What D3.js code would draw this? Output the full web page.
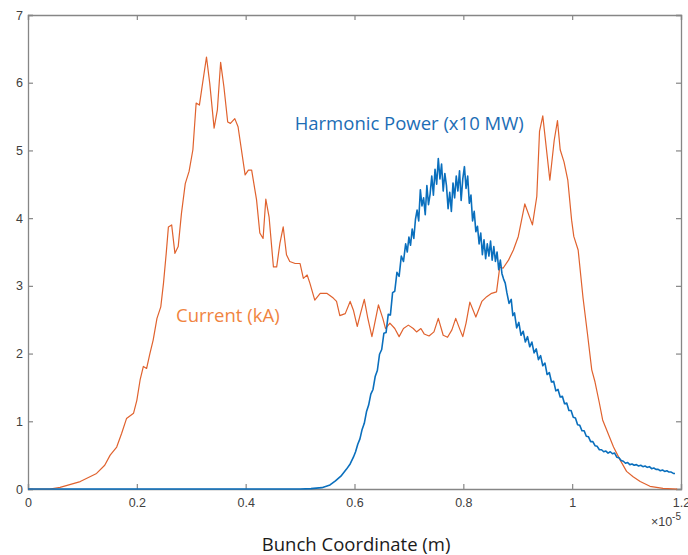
<!DOCTYPE html>
<html>
<head>
<meta charset="utf-8">
<script src="https://cdn.jsdelivr.net/npm/d3@7"></script>
<style>
  body { margin: 0; background: #fff; }
  svg { display: block; }
</style>
</head>
<body>
<div id="chart"></div>
<script>
// bunch coordinate in units of 1e-5 m
var currentData = [
  [0,0],[0.040,0],[0.059,0.025],[0.096,0.11],[0.126,0.23],[0.141,0.35],[0.151,0.50],[0.163,0.62],
  [0.172,0.82],[0.181,1.04],[0.194,1.12],[0.200,1.31],[0.206,1.61],[0.212,1.81],[0.218,1.78],
  [0.224,2.00],[0.230,2.20],[0.237,2.52],[0.244,2.69],[0.249,3.04],[0.254,3.48],[0.258,3.87],
  [0.264,3.90],[0.270,3.48],[0.276,3.58],[0.282,4.07],[0.289,4.51],[0.296,4.69],[0.303,5.01],
  [0.309,5.70],[0.315,5.67],[0.319,5.89],[0.328,6.38],[0.334,5.99],[0.342,5.33],[0.348,5.60],
  [0.354,6.30],[0.360,5.94],[0.367,5.42],[0.372,5.40],[0.380,5.47],[0.386,5.35],[0.399,4.64],
  [0.405,4.71],[0.411,4.71],[0.420,4.27],[0.426,3.78],[0.432,3.70],[0.437,4.28],[0.443,4.02],
  [0.451,3.28],[0.457,3.28],[0.463,3.63],[0.469,3.87],[0.475,3.46],[0.481,3.36],[0.491,3.33],
  [0.500,3.33],[0.506,3.11],[0.513,3.16],[0.518,3.04],[0.527,2.79],[0.537,2.89],[0.549,2.89],
  [0.561,2.82],[0.567,2.77],[0.573,2.56],[0.583,2.59],[0.592,2.77],[0.598,2.64],[0.605,2.40],
  [0.611,2.59],[0.618,2.80],[0.624,2.54],[0.632,2.25],[0.636,2.40],[0.644,2.72],[0.652,2.52],
  [0.657,2.37],[0.665,2.45],[0.674,2.37],[0.682,2.25],[0.690,2.37],[0.699,2.42],[0.708,2.37],
  [0.714,2.32],[0.722,2.37],[0.728,2.29],[0.737,2.26],[0.746,2.32],[0.754,2.52],[0.763,2.27],
  [0.771,2.24],[0.779,2.35],[0.786,2.52],[0.794,2.35],[0.799,2.25],[0.805,2.45],[0.812,2.76],
  [0.823,2.54],[0.834,2.77],[0.843,2.84],[0.852,2.89],[0.861,2.91],[0.867,3.28],[0.873,3.26],
  [0.883,3.38],[0.892,3.53],[0.901,3.73],[0.913,4.21],[0.927,3.90],[0.935,4.32],[0.940,5.28],
  [0.946,5.51],[0.959,4.56],[0.967,5.15],[0.973,5.44],[0.978,5.01],[0.985,4.83],[0.992,4.56],
  [0.999,3.97],[1.003,3.73],[1.011,3.53],[1.020,2.82],[1.028,2.30],[1.036,1.76],[1.042,1.58],
  [1.050,1.27],[1.056,1.02],[1.066,0.82],[1.076,0.62],[1.088,0.43],[1.100,0.26],[1.112,0.18],
  [1.125,0.11],[1.143,0.04],[1.167,0.01],[1.193,0]
];

var powerData = [
  [0,0],[0.45,0],[0.50,0],[0.52,0.005],[0.54,0.02],[0.555,0.06],[0.565,0.12],[0.575,0.19],
  [0.585,0.29],[0.592,0.37],[0.598,0.47],
  [0.602,0.55],[0.606,0.66],[0.610,0.74],[0.614,0.88],[0.618,0.97],[0.622,1.14],[0.626,1.24],
  [0.630,1.40],[0.634,1.47],[0.638,1.66],[0.642,1.75],[0.646,1.99],[0.650,2.06],[0.654,2.30],
  [0.658,2.31],[0.662,2.58],[0.666,2.57],[0.670,2.90],[0.674,2.92],[0.678,3.20],[0.682,3.14],
  [0.686,3.44],[0.690,3.36],[0.694,3.62],[0.697,3.50],
  [0.700,3.72],[0.703,3.60],[0.706,3.84],[0.709,3.70],[0.712,3.98],[0.715,4.12],[0.718,3.96],
  [0.721,4.42],[0.724,4.18],[0.727,4.30],[0.730,4.05],[0.733,4.48],[0.736,4.20],[0.739,4.36],
  [0.742,4.62],[0.745,4.34],[0.748,4.72],[0.751,4.50],[0.754,4.88],[0.757,4.58],[0.760,4.80],
  [0.763,4.40],[0.766,4.66],[0.769,4.48],[0.772,4.14],[0.775,4.38],[0.778,4.10],[0.781,4.52],
  [0.784,4.30],[0.787,4.62],[0.790,4.40],[0.793,4.70],[0.796,4.26],[0.799,4.58],[0.802,4.76],
  [0.805,4.44],[0.808,4.62],[0.811,4.22],[0.814,4.34],[0.817,3.96],[0.820,4.10],[0.823,3.80],
  [0.826,3.88],[0.829,3.62],[0.832,3.78],[0.835,3.46],[0.838,3.68],[0.841,3.40],[0.844,3.62],
  [0.847,3.44],[0.850,3.66],[0.853,3.38],[0.856,3.58],[0.859,3.36],[0.862,3.50],[0.865,3.24],
  [0.868,3.38],[0.871,3.18],[0.874,3.10],[0.877,3.04],[0.880,2.90],
  [0.884,2.74],[0.888,2.80],[0.891,2.56],[0.894,2.60],[0.898,2.38],[0.902,2.46],[0.906,2.27],
  [0.910,2.33],[0.914,2.17],[0.918,2.25],[0.922,2.10],[0.926,2.17],[0.930,2.01],[0.934,2.07],
  [0.938,1.91],[0.942,1.97],[0.946,1.82],[0.950,1.86],[0.954,1.69],[0.958,1.72],[0.962,1.58],
  [0.966,1.59],[0.970,1.45],[0.974,1.47],[0.978,1.36],[0.982,1.37],[0.986,1.26],[0.990,1.27],
  [0.994,1.16],[0.998,1.16],[1.002,1.06],[1.006,1.05],[1.010,0.95],[1.014,0.94],[1.018,0.86],
  [1.022,0.86],[1.026,0.78],[1.030,0.77],[1.034,0.70],[1.038,0.70],[1.042,0.64],[1.046,0.63],
  [1.050,0.58],[1.054,0.58],[1.058,0.55],[1.062,0.56],[1.066,0.53],[1.070,0.55],[1.074,0.52],
  [1.078,0.53],[1.082,0.47],[1.086,0.46],[1.090,0.42],[1.094,0.41],[1.098,0.38],[1.102,0.39],
  [1.106,0.36],[1.110,0.37],[1.114,0.35],[1.118,0.36],[1.122,0.34],[1.126,0.35],[1.130,0.33],
  [1.134,0.34],[1.138,0.32],[1.142,0.33],[1.146,0.30],[1.150,0.31],[1.154,0.29],[1.158,0.29],
  [1.162,0.27],[1.166,0.28],[1.170,0.26],[1.174,0.27],[1.178,0.25],[1.182,0.25],[1.186,0.23],
  [1.189,0.23]
];

var xTicks = [0, 0.2, 0.4, 0.6, 0.8, 1, 1.2];
var yTicks = [0, 1, 2, 3, 4, 5, 6, 7];

var margin = {top: 15, right: 7, bottom: 66, left: 28},
  width = 688 - margin.left - margin.right,
  height = 555 - margin.top - margin.bottom;

var svg = d3.select("#chart")
  .append("svg")
    .attr("width", 688)
    .attr("height", 555)
  .append("g")
    .attr("transform", "translate(" + margin.left + "," + margin.top + ")");

var x = d3.scaleLinear().domain([0, 1.2]).range([0, width]);
var y = d3.scaleLinear().domain([0, 7]).range([height, 0]);

var axisColor = "#868686";
var textColor = "#404040";
var tickFont = "Liberation Sans, Arial, sans-serif";

// axes, MATLAB style: ticks inward on all four sides
svg.append("g")
  .attr("transform", "translate(0," + height + ")")
  .call(d3.axisBottom(x).tickValues(xTicks).tickSize(-5).tickPadding(9)
    .tickFormat(function(d) { return d; }));
svg.append("g")
  .call(d3.axisTop(x).tickValues(xTicks).tickSize(-5).tickFormat(""));
svg.append("g")
  .call(d3.axisLeft(y).tickValues(yTicks).tickSize(-5).tickPadding(5)
    .tickFormat(d3.format("d")));
svg.append("g")
  .attr("transform", "translate(" + width + ",0)")
  .call(d3.axisRight(y).tickValues(yTicks).tickSize(-5).tickFormat(""));

svg.selectAll(".domain").style("stroke", axisColor).style("stroke-width", 1.3);
svg.selectAll(".tick line").style("stroke", axisColor).style("stroke-width", 1.2);
svg.selectAll(".tick text")
  .style("fill", textColor)
  .style("font-family", tickFont)
  .style("font-size", "12.5px");

var line = d3.line()
  .x(function(d) { return x(d[0]); })
  .y(function(d) { return y(d[1]); });

svg.append("path")
  .datum(currentData)
  .attr("d", line)
  .style("fill", "none")
  .style("stroke", "#e0622e")
  .style("stroke-width", 1.2)
  .style("stroke-linejoin", "round");

svg.append("path")
  .datum(powerData)
  .attr("d", line)
  .style("fill", "none")
  .style("stroke", "#0a6fbd")
  .style("stroke-width", 1.6)
  .style("stroke-linejoin", "round");

// labels
svg.append("text")
  .attr("x", x(0.49))
  .attr("y", y(5.3))
  .style("font-family", "Open Sans, sans-serif")
  .style("font-size", "18.5px")
  .style("fill", "#1c6db5")
  .text("Harmonic Power (x10 MW)");

svg.append("text")
  .attr("x", x(0.272))
  .attr("y", y(2.47))
  .style("font-family", "Open Sans, sans-serif")
  .style("font-size", "18.5px")
  .style("fill", "#f0843f")
  .text("Current (kA)");

// exponent
var ex = svg.append("text")
  .attr("x", width)
  .attr("y", height + 37)
  .style("text-anchor", "end")
  .style("font-family", tickFont)
  .style("font-size", "12.5px")
  .style("fill", textColor);
ex.append("tspan").text("\u00d710");
ex.append("tspan").attr("dy", -6).style("font-size", "10px").text("-5");

svg.append("text")
  .attr("x", x(0.603))
  .attr("y", height + 62)
  .style("text-anchor", "middle")
  .style("font-family", "Open Sans, sans-serif")
  .style("font-size", "18.5px")
  .style("fill", "#1a1a1a")
  .text("Bunch Coordinate (m)");
</script>
</body>
</html>
